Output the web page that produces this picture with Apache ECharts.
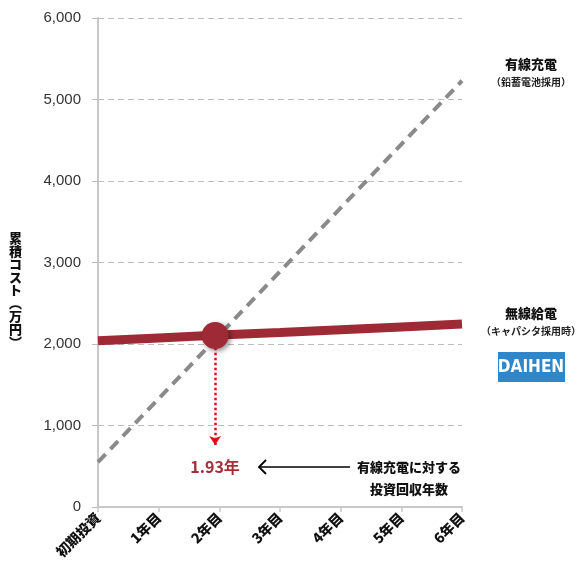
<!DOCTYPE html>
<html>
<head>
<meta charset="utf-8">
<script src="https://cdn.jsdelivr.net/npm/echarts@6/dist/echarts.min.js"></script>
<style>
  html, body { margin: 0; padding: 0; background: #fff; }
  #chart { width: 585px; height: 576px; }
</style>
</head>
<body>
<div id="chart"></div>
<script>
// 横軸ラベル
const categories = ['初期投資', '1年目', '2年目', '3年目', '4年目', '5年目', '6年目']
// 有線充電（鉛蓄電池採用）累積コスト
const wiredCost = [550, 1330, 2110, 2890, 3670, 4450, 5230]
// 無線給電（キャパシタ採用時）累積コスト
const wirelessCost = [2040, 2075, 2110, 2140, 2175, 2210, 2245]
// 投資回収点
const paybackPoint = [1.93, 2105]
const paybackLabel = '1.93年'
const yTicks = [0, 1000, 2000, 3000, 4000, 5000, 6000]

const FONT = '"Noto Sans CJK JP", "Noto Sans", sans-serif'
const RED = '#9e2a35'

const chart = echarts.init(document.getElementById('chart'))

const option = {
  animation: false,
  grid: { left: 98, right: 123, top: 18, bottom: 69 },
  xAxis: {
    type: 'value',
    min: 0,
    max: 6,
    interval: 1,
    axisLine: { show: true, lineStyle: { color: '#c8c8c8', width: 2 } },
    axisTick: { show: true, length: 5, lineStyle: { color: '#c8c8c8', width: 1.5 } },
    splitLine: { show: false },
    axisLabel: {
      rotate: 45,
      margin: 8,
      color: '#111',
      fontSize: 14,
      fontWeight: 900,
      fontFamily: FONT,
      formatter: v => categories[v] || ''
    }
  },
  yAxis: {
    type: 'value',
    min: yTicks[0],
    max: yTicks[yTicks.length - 1],
    interval: 1000,
    axisLine: { show: true, lineStyle: { color: '#c8c8c8', width: 2 } },
    axisTick: { show: true, length: 6, lineStyle: { color: '#bbb' } },
    splitLine: { show: true, lineStyle: { color: '#bdbdbd', type: [6, 4], width: 1 } },
    axisLabel: {
      color: '#333',
      fontSize: 15,
      fontFamily: '"Liberation Sans", Arial, sans-serif',
      margin: 17,
      formatter: v => v.toLocaleString('en-US')
    }
  },
  series: [
    {
      name: '有線充電',
      type: 'line',
      data: wiredCost.map((v, i) => [i, v]),
      symbol: 'none',
      lineStyle: { color: '#8a8a8a', width: 4, type: [11, 7] },
      z: 3
    },
    {
      name: '無線給電',
      type: 'line',
      data: wirelessCost.map((v, i) => [i, v]),
      symbol: 'none',
      lineStyle: { color: RED, width: 9 },
      z: 4,
      markLine: {
        silent: true,
        symbol: ['none', 'arrow'],
        symbolSize: 9,
        label: { show: false },
        lineStyle: { color: '#e0101a', type: 'dotted', width: 2.5 },
        data: [[{ coord: [paybackPoint[0], paybackPoint[1] - 150] }, { coord: [paybackPoint[0], 760] }]]
      }
    },
    {
      name: 'payback',
      type: 'scatter',
      data: [paybackPoint],
      symbolSize: 27,
      itemStyle: {
        color: RED,
        opacity: 1,
        shadowColor: 'rgba(0,0,0,0.45)',
        shadowBlur: 5,
        shadowOffsetX: 2,
        shadowOffsetY: 2
      },
      z: 6
    },
    {
      name: 'paybackLabel',
      type: 'scatter',
      data: [[paybackPoint[0], 490]],
      symbolSize: 0,
      itemStyle: { opacity: 1 },
      label: {
        show: true,
        position: 'inside',
        formatter: paybackLabel,
        color: '#a32f3a',
        fontSize: 16,
        fontWeight: 'bold',
        fontFamily: FONT
      },
      z: 6
    }
  ],
  graphic: [
    {
      type: 'text',
      left: 9,
      top: 232,
      style: {
        text: '累\n積\nコ\nス\nト\n︵\n万\n円\n︶',
        font: '900 13px ' + FONT,
        fill: '#111',
        lineHeight: 13,
        align: 'center'
      }
    },
    {
      type: 'text', x: 531, y: 64,
      style: { text: '有線充電', font: '900 13px ' + FONT, fill: '#111', align: 'center', verticalAlign: 'middle' }
    },
    {
      type: 'text', x: 531, y: 82,
      style: { text: '（鉛蓄電池採用）', font: 'bold 10px ' + FONT, fill: '#222', align: 'center', verticalAlign: 'middle' }
    },
    {
      type: 'text', x: 531, y: 313,
      style: { text: '無線給電', font: '900 13px ' + FONT, fill: '#111', align: 'center', verticalAlign: 'middle' }
    },
    {
      type: 'text', x: 531, y: 331,
      style: { text: '（キャパシタ採用時）', font: 'bold 10px ' + FONT, fill: '#222', align: 'center', verticalAlign: 'middle' }
    },
    {
      type: 'rect',
      shape: { x: 498, y: 352, width: 67, height: 30 },
      style: { fill: '#2f87c9' }
    },
    {
      type: 'text', x: 531, y: 368,
      style: { text: 'DAIHEN', font: 'bold 17px "DejaVu Sans Condensed", "Liberation Sans Narrow", sans-serif', fill: '#fff', align: 'center', verticalAlign: 'middle' }
    },
    {
      type: 'line',
      shape: { x1: 259, y1: 467, x2: 350, y2: 467 },
      style: { stroke: '#000', lineWidth: 1.5 }
    },
    {
      type: 'polyline',
      shape: { points: [[266, 460], [259, 467], [266, 474]] },
      style: { stroke: '#000', lineWidth: 1.8, fill: 'none' }
    },
    {
      type: 'text', x: 409, y: 467,
      style: { text: '有線充電に対する', font: '900 13px ' + FONT, fill: '#111', align: 'center', verticalAlign: 'middle' }
    },
    {
      type: 'text', x: 409, y: 489,
      style: { text: '投資回収年数', font: '900 13px ' + FONT, fill: '#111', align: 'center', verticalAlign: 'middle' }
    }
  ]
}

chart.setOption(option)
</script>
</body>
</html>
